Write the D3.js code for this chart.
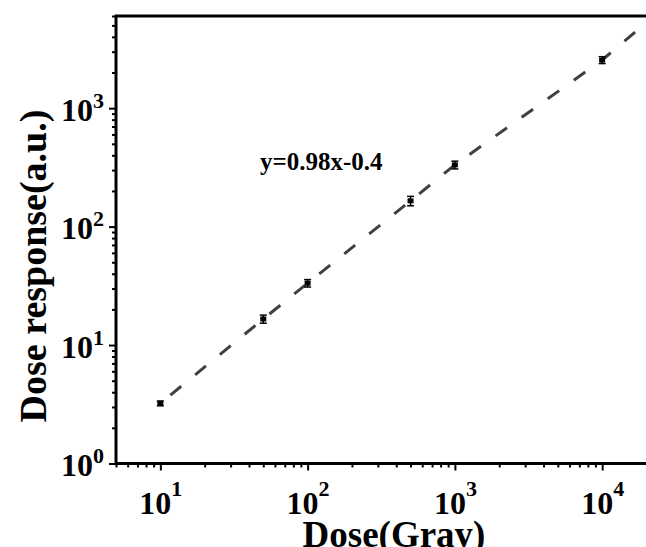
<!DOCTYPE html>
<html>
<head>
<meta charset="utf-8">
<script src="https://cdn.jsdelivr.net/npm/d3@7"></script>
<style>
  html, body { margin: 0; padding: 0; background: #fff; }
  svg { display: block; }
  text { font-family: "Liberation Serif", "Times New Roman", serif; font-weight: bold; fill: #000; }
</style>
</head>
<body>
<svg id="chart" width="646" height="547"></svg>
<script>
// ---- data ----
const dose = [10, 50, 100, 500, 1000, 10000];            // Gray
const response = [3.22, 16.6, 33.3, 165, 332, 2550];      // a.u.
const responseErr = [0.15, 1.3, 2.4, 15, 25, 170];
const fitDose = [10, 50, 100, 500, 1000, 10000, 20000];
const fitResp = [3.22, 16.6, 33.3, 165, 332, 2550, 5300];
const xMajorTicks = [10, 100, 1000, 10000];
const xExponents = ["1", "2", "3", "4"];
const yMajorTicks = [1, 10, 100, 1000];
const yExponents = ["0", "1", "2", "3"];
const fitLabel = "y=0.98x-0.4";
const xTitle = "Dose(Gray)";
const yTitle = "Dose response(a.u.)";

// ---- layout ----
const svg = d3.select("#chart");
const mLeft = 116, mRight = 646.5, mTop = 16, mBottom = 463.5;

const x = d3.scaleLog().domain([5, 20000]).range([mLeft, mRight]);
const y = d3.scaleLog().domain([1, 6000]).range([mBottom, mTop]);

function minorTicks(scale) {
  const [a, b] = scale.domain();
  const out = [];
  for (let e = Math.floor(Math.log10(a)); e <= Math.ceil(Math.log10(b)); e++) {
    for (let m = 2; m <= 9; m++) {
      const v = m * Math.pow(10, e);
      if (v >= a * 0.999 && v <= b * 1.001) out.push(v);
    }
  }
  return out;
}

// minor ticks
svg.append("g")
  .attr("transform", `translate(0,${mBottom})`)
  .call(d3.axisBottom(x).tickValues(minorTicks(x)).tickSize(4).tickFormat(""))
  .call(g => g.select(".domain").remove())
  .call(g => g.selectAll(".tick line").attr("stroke", "#000").attr("stroke-width", 2));

svg.append("g")
  .attr("transform", `translate(${mLeft},0)`)
  .call(d3.axisLeft(y).tickValues(minorTicks(y)).tickSize(4).tickFormat(""))
  .call(g => g.select(".domain").remove())
  .call(g => g.selectAll(".tick line").attr("stroke", "#000").attr("stroke-width", 2));

// major ticks with labels
const xAxis = svg.append("g")
  .attr("transform", `translate(0,${mBottom})`)
  .call(d3.axisBottom(x).tickValues(xMajorTicks).tickSize(7).tickFormat(""))
  .call(g => g.select(".domain").remove())
  .call(g => g.selectAll(".tick line").attr("stroke", "#000").attr("stroke-width", 2));
xAxis.selectAll(".tick text")
  .attr("y", 50.5).attr("dy", 0)
  .attr("font-size", 32)
  .attr("text-anchor", "middle")
  .each(function(d, i) {
    const t = d3.select(this);
    t.append("tspan").text("10");
    t.append("tspan").attr("font-size", 22).attr("dy", -18).text(xExponents[i]);
  });

const yAxis = svg.append("g")
  .attr("transform", `translate(${mLeft},0)`)
  .call(d3.axisLeft(y).tickValues(yMajorTicks).tickSize(7).tickFormat(""))
  .call(g => g.select(".domain").remove())
  .call(g => g.selectAll(".tick line").attr("stroke", "#000").attr("stroke-width", 2));
yAxis.selectAll(".tick text")
  .attr("x", -12).attr("dy", 12)
  .attr("font-size", 32)
  .attr("text-anchor", "end")
  .each(function(d, i) {
    const t = d3.select(this);
    t.append("tspan").text("10");
    t.append("tspan").attr("font-size", 22).attr("dy", -13).text(yExponents[i]);
  });

// frame
svg.append("rect")
  .attr("x", mLeft).attr("y", mTop)
  .attr("width", 650 - mLeft).attr("height", mBottom - mTop)
  .attr("fill", "none").attr("stroke", "#000").attr("stroke-width", 3);

// dashed line
const line = d3.line().x((d, i) => x(fitDose[i])).y((d, i) => y(fitResp[i]));
svg.append("path")
  .datum(fitDose)
  .attr("d", line)
  .attr("fill", "none")
  .attr("stroke", "#404040")
  .attr("stroke-width", 3)
  .attr("stroke-dasharray", "14,18")
  .attr("stroke-dashoffset", 19);

// error bars and markers
const pts = svg.append("g");
dose.forEach((d, i) => {
  const cx = x(d);
  const yl = y(response[i] - responseErr[i]);
  const yh = y(response[i] + responseErr[i]);
  pts.append("line").attr("x1", cx).attr("x2", cx).attr("y1", yl).attr("y2", yh)
    .attr("stroke", "#000").attr("stroke-width", 1.5);
  [yl, yh].forEach(yy => {
    pts.append("line").attr("x1", cx - 3.5).attr("x2", cx + 3.5).attr("y1", yy).attr("y2", yy)
      .attr("stroke", "#000").attr("stroke-width", 1.5);
  });
  pts.append("rect")
    .attr("x", cx - 3).attr("y", y(response[i]) - 2.5)
    .attr("width", 6).attr("height", 5)
    .attr("fill", "#000");
});

// annotation
svg.append("text")
  .attr("x", 260).attr("y", 170)
  .attr("font-size", 25)
  .text(fitLabel);

// axis titles
svg.append("text")
  .attr("x", 394).attr("y", 547)
  .attr("text-anchor", "middle")
  .attr("font-size", 37)
  .text(xTitle);

svg.append("text")
  .attr("transform", "translate(46,266) rotate(-90)")
  .attr("text-anchor", "middle")
  .attr("font-size", 38)
  .text(yTitle);
</script>
</body>
</html>
